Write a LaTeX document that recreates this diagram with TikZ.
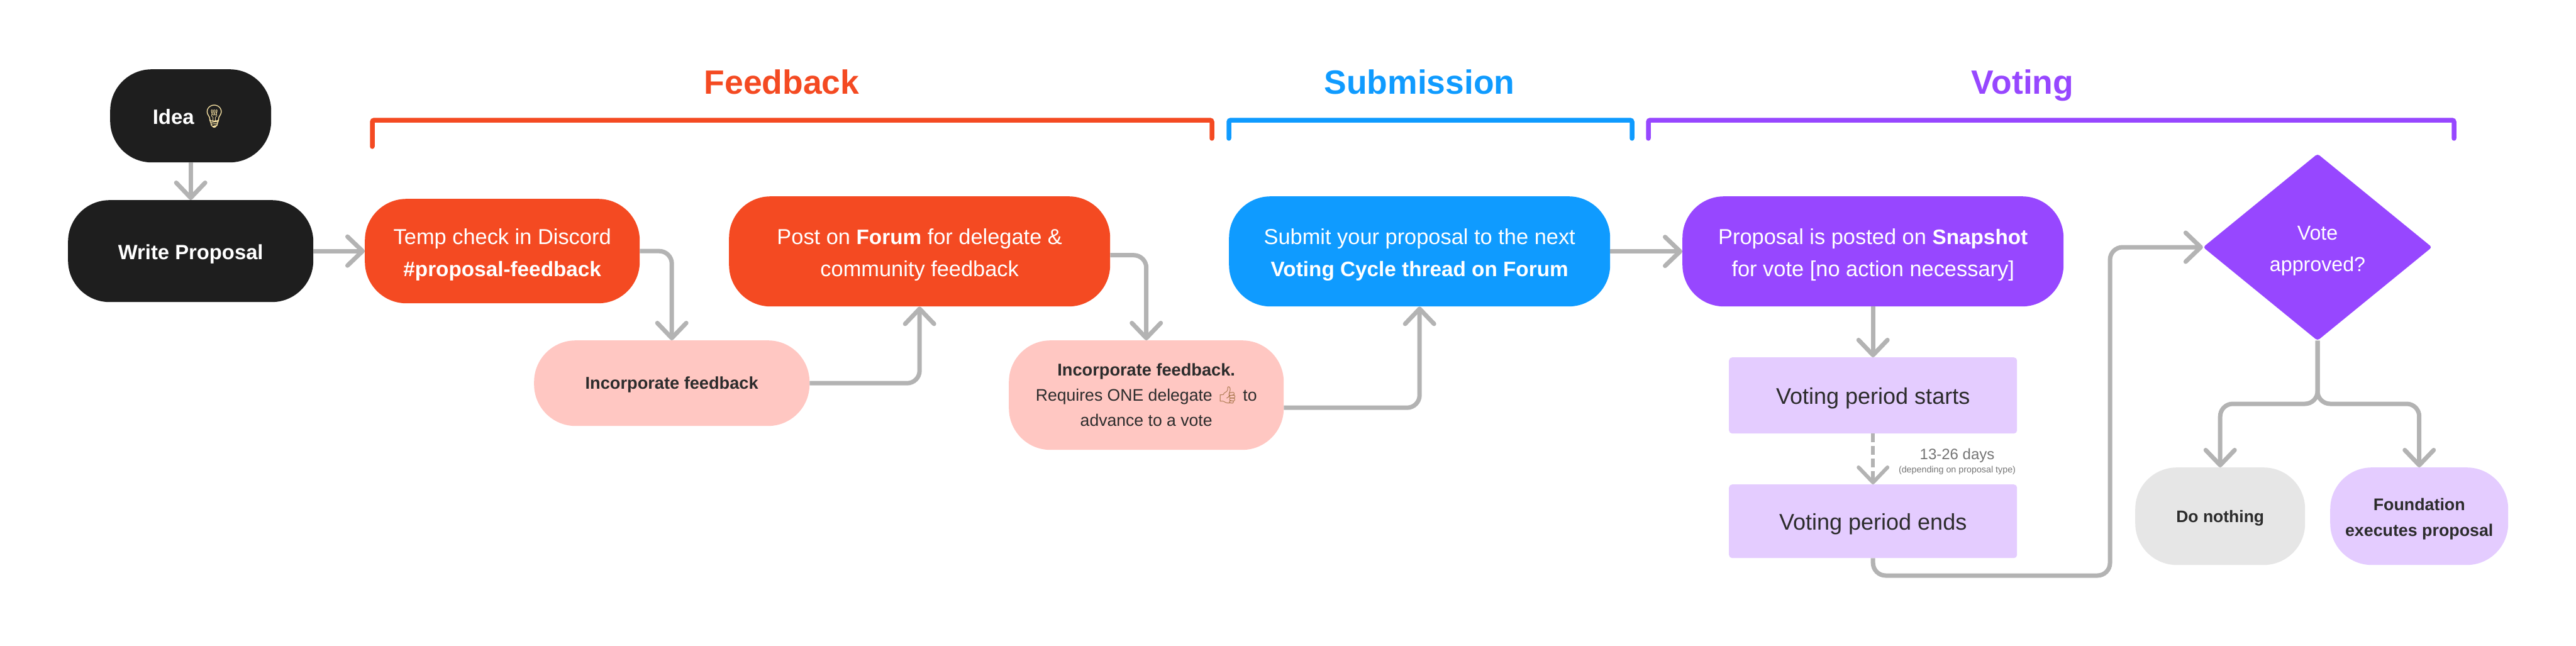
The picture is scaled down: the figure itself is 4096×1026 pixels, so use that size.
\documentclass[tikz,border=0pt]{standalone}
\usepackage{fontspec}
\setmainfont{Liberation Sans}
\newfontfamily\emojifont{Noto Emoji}
\usetikzlibrary{arrows.meta,shapes.geometric,calc}
\definecolor{cOrange}{HTML}{F44A22}
\definecolor{cBlue}{HTML}{0F9BFF}
\definecolor{cPurple}{HTML}{9747FF}
\definecolor{cLilac}{HTML}{E4CCFF}
\definecolor{cPink}{HTML}{FFC7C2}
\definecolor{cGray}{HTML}{E6E6E6}
\definecolor{cBlack}{HTML}{1E1E1E}
\definecolor{cLine}{HTML}{B3B3B3}
\definecolor{cInk}{HTML}{2C2C2C}
\definecolor{cMuted}{HTML}{757575}
\definecolor{cBulb}{HTML}{FFE9A8}
\definecolor{cThumb}{HTML}{A8754A}
\newcommand{\fs}[2]{\fontsize{#1}{#2}\selectfont}
\newcommand{\bt}[1]{{\fontsize{33.3}{51}\selectfont\bfseries #1}}
\tikzset{
  x=1pt,y=-1pt,
  box/.style={rounded corners=66pt,inner sep=0pt,align=center,anchor=north west},
  whitetext/.style={text=white,font=\fs{34.4}{51},text height=87pt},
  flatbox/.style={fill=cLilac,rounded corners=5pt,inner sep=0pt,align=center,anchor=north west,text=cInk,font=\fs{36}{51},text height=35pt},
  conn/.style={draw=cLine,line width=7pt,rounded corners=20pt,-{Straight Barb[round,length=24pt,width=46pt]}},
  bracketline/.style={line width=7.5pt,rounded corners=3pt,line cap=round},
  title/.style={font=\fs{53.5}{60}\bfseries,anchor=base},
}
\newcommand{\boxat}[7]{% name, x0,y0,x1,y1, style, text
  \node[box,#6,minimum width=#4pt-#2pt,minimum height=#5pt-#3pt] (#1) at (#2,#3) {#7};}
\begin{document}
\begin{tikzpicture}
\useasboundingbox (0,0) rectangle (4096,1026);
\fill[white] (0,0) rectangle (4096,1026);

\boxat{idea}{175}{110}{431}{258}{fill=cBlack,text=white,font=\fs{33}{40}\bfseries,text height=33pt}{Idea {\emojifont\fs{36}{40}\mdseries\textcolor{cBulb}{💡}}}
\boxat{write}{108}{318}{498}{480}{fill=cBlack,text=white,font=\fs{32.8}{44}\bfseries,text height=34pt}{Write Proposal}
\boxat{temp}{580}{316}{1017}{482}{fill=cOrange,whitetext}{Temp check in Discord\\\bt{\#proposal-feedback}}
\boxat{post}{1159}{312}{1765}{487}{fill=cOrange,whitetext}{Post on \bt{Forum} for delegate \&\\community feedback}
\boxat{incA}{849}{541}{1287}{677}{fill=cPink,text=cInk,font=\fs{27.2}{40}\bfseries,text height=25pt}{Incorporate feedback}
\boxat{incB}{1604}{541}{2041}{715}{fill=cPink,text=cInk,font=\fs{26.6}{40}}{{\fs{27.2}{40}\textbf{Incorporate feedback.}}\\Requires ONE delegate {\emojifont\textcolor{cThumb}{👍}} to\\advance to a vote}
\boxat{submit}{1954}{312}{2560}{487}{fill=cBlue,whitetext}{Submit your proposal to the next\\\bt{Voting Cycle thread on Forum}}
\boxat{snap}{2675}{312}{3281}{487}{fill=cPurple,whitetext}{Proposal is posted on \bt{Snapshot}\\for vote [no action necessary]}
\node[flatbox,minimum width=458pt,minimum height=121pt] (vstart) at (2749,568) {Voting period starts};
\node[flatbox,minimum width=458pt,minimum height=117pt] (vend) at (2749,770) {Voting period ends};
\node[diamond,aspect=1.2256,fill=cPurple,rounded corners=4pt,inner sep=0pt,minimum width=364pt,minimum height=297pt,align=center,text=white,font=\fs{32.2}{50},text height=84pt] (dec) at (3685,393) {Vote\\approved?};
\boxat{nothing}{3395}{743}{3665}{898}{fill=cGray,text=cInk,font=\fs{26.5}{40}\bfseries,text height=25pt}{Do nothing}
\boxat{found}{3705}{743}{3988}{898}{fill=cLilac,text=cInk,font=\fs{26.8}{41}\bfseries,text height=69pt}{Foundation\\executes proposal}

% titles
\node[title,text=cOrange] (tFeed) at (1243,149) {Feedback};
\node[title,text=cBlue] (tSub) at (2257,149) {Submission};
\node[title,text=cPurple] (tVote) at (3216,149) {Voting};

% brackets
\draw[bracketline,cOrange] (592,233) -- (592,191) -- (1927,191) -- (1927,220);
\draw[bracketline,cBlue] (1954,220) -- (1954,191) -- (2595,191) -- (2595,220);
\draw[bracketline,cPurple] (2621,220) -- (2621,191) -- (3902,191) -- (3902,220);

% connectors
\draw[conn] (idea.south) -- (write.north);
\draw[conn] (write.east) -- (temp.west);
\draw[conn] (temp.east) -| (incA.north);
\draw[conn] (incA.east) -| (post.south);
\draw[conn] ($(post.east)+(0,6)$) -| (incB.north);
\draw[conn] ($(incB.east)+(0,20)$) -| (submit.south);
\draw[conn] (submit.east) -- (snap.west);
\draw[conn] (snap.south) -- (vstart.north);
\draw[conn,dash pattern=on 14pt off 6pt,line width=6pt] (vstart.south) -- (vend.north);
\coordinate (bendA) at (3355,915);
\draw[conn] (vend.south) |- (bendA) |- (dec.west);
\coordinate (split) at (3685,642);
\draw[conn] (dec.south) -- (split) -| (nothing.north);
\draw[conn] (dec.south) -- (split) -| (found.north);

% label of the dashed connector
\node[text=cMuted,font=\fs{24}{26},anchor=center] (lblA) at (3112,724) {13-26 days};
\node[text=cMuted,font=\fs{14.3}{18},anchor=center] (lblB) at (3112,748) {(depending on proposal type)};
\end{tikzpicture}
\end{document}
